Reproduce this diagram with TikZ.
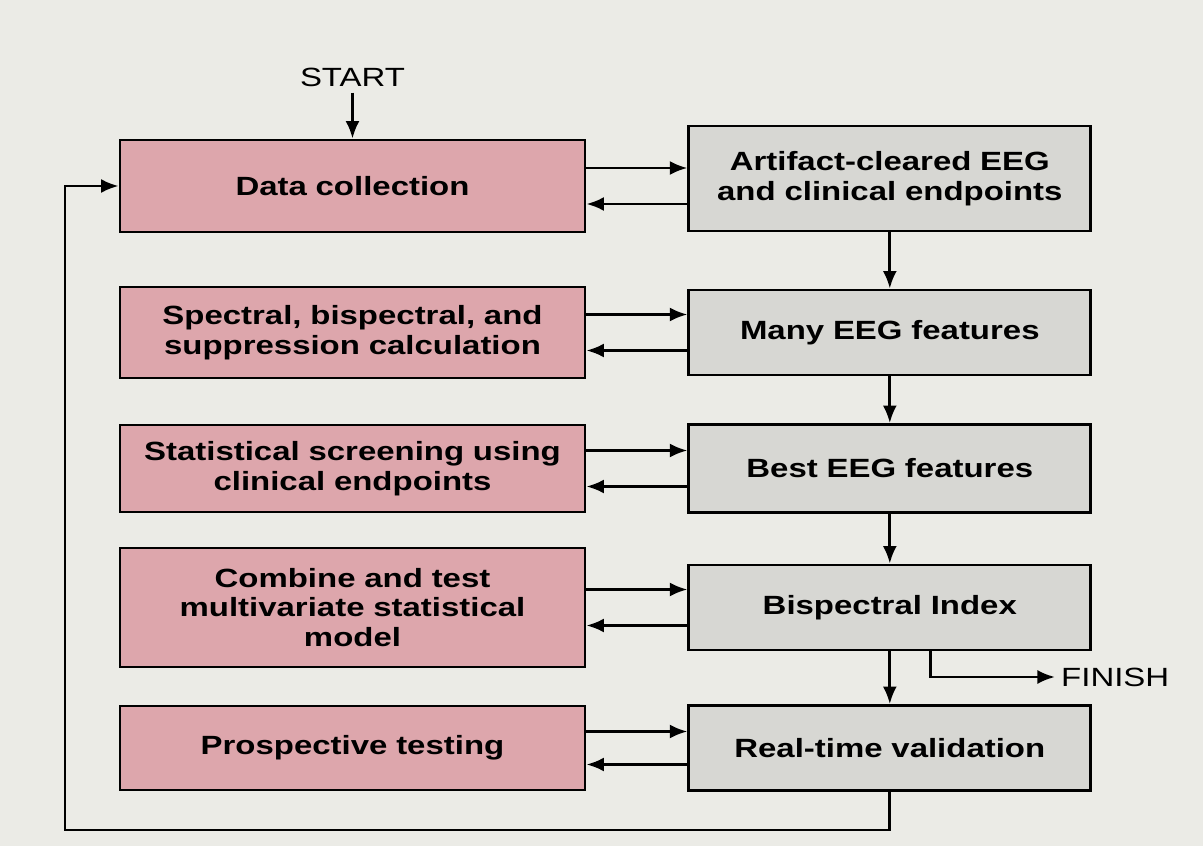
\documentclass[tikz,border=0pt]{standalone}
\usepackage{fontspec}
\setmainfont[FakeStretch=1.25]{Liberation Sans}
\usetikzlibrary{positioning, arrows.meta}
\definecolor{boxpink}{RGB}{221,166,172}
\definecolor{boxgray}{RGB}{215,215,211}
\definecolor{paper}{RGB}{235,235,230}

\begin{document}
\begin{tikzpicture}[node distance=2.02cm, auto]
		% styles
		\tikzstyle{procbox} = [rectangle, draw, fill=boxpink, line width=1.6pt, minimum width=9.3cm, text width=8.9cm, align=center, font=\bfseries\fontsize{15}{17}\selectfont]
		\tikzstyle{outbox} = [rectangle, draw, fill=boxgray, line width=1.6pt, minimum width=8.04cm, text width=7.7cm, align=center, font=\bfseries\fontsize{15}{17}\selectfont]
		\tikzstyle{tag} = [font=\fontsize{15}{17}\selectfont]
		\tikzstyle{arrow} = [line width=1.6pt, -{Latex[length=10pt,width=8pt]}]
		
		% background
		\fill [paper] (0,0) rectangle (24.06,-16.92);
		\useasboundingbox (0,0) rectangle (24.06,-16.92);
		
		% left column
		\node [procbox, minimum height=1.84cm] (datacoll) at (7.05,-3.72) {Data collection};
		\node [procbox, minimum height=1.82cm] (specalc) at (7.05,-6.65) {Spectral, bispectral, and\\suppression calculation};
		\node [procbox, minimum height=1.74cm] (screening) at (7.05,-9.37) {Statistical screening using\\clinical endpoints};
		\node [procbox, minimum height=2.38cm] (combine) at (7.05,-12.15) {Combine and test\\multivariate statistical\\model};
		\node [procbox, minimum height=1.68cm] (prospect) at (7.05,-14.96) {Prospective testing};
		
		% right column
		\node [outbox, minimum height=2.1cm, right=of datacoll, yshift=0.15cm] (cleared) {Artifact-cleared EEG\\and clinical endpoints};
		\node [outbox, minimum height=1.7cm, right=of specalc] (manyfeat) {Many EEG features};
		\node [outbox, minimum height=1.76cm, right=of screening] (bestfeat) {Best EEG features};
		\node [outbox, minimum height=1.7cm, right=of combine] (bis) {Bispectral Index};
		\node [outbox, minimum height=1.7cm, right=of prospect] (realtime) {Real-time validation};
		
		\node [tag] (start) at (7.05,-1.54) {START};
		\node [tag, anchor=west] (finish) at (21.1,-13.54) {FINISH};
		\coordinate (loopcorner) at (1.3,-16.6);
		
		% arrows
		\draw [arrow] (start) -- (datacoll);
		\draw [arrow] ([yshift=0.36cm]datacoll.east) -- ([yshift=0.36cm]datacoll.east -| cleared.west);
		\draw [arrow] ([yshift=-0.36cm]datacoll.east -| cleared.west) -- ([yshift=-0.36cm]datacoll.east);
		\draw [arrow] ([yshift=0.36cm]specalc.east) -- ([yshift=0.36cm]specalc.east -| manyfeat.west);
		\draw [arrow] ([yshift=-0.36cm]specalc.east -| manyfeat.west) -- ([yshift=-0.36cm]specalc.east);
		\draw [arrow] ([yshift=0.36cm]screening.east) -- ([yshift=0.36cm]screening.east -| bestfeat.west);
		\draw [arrow] ([yshift=-0.36cm]screening.east -| bestfeat.west) -- ([yshift=-0.36cm]screening.east);
		\draw [arrow] ([yshift=0.36cm]combine.east) -- ([yshift=0.36cm]combine.east -| bis.west);
		\draw [arrow] ([yshift=-0.36cm]combine.east -| bis.west) -- ([yshift=-0.36cm]combine.east);
		\draw [arrow] ([yshift=0.33cm]prospect.east) -- ([yshift=0.33cm]prospect.east -| realtime.west);
		\draw [arrow] ([yshift=-0.33cm]prospect.east -| realtime.west) -- ([yshift=-0.33cm]prospect.east);
		
		\draw [arrow] (cleared) -- (manyfeat);
		\draw [arrow] (manyfeat) -- (bestfeat);
		\draw [arrow] (bestfeat) -- (bis);
		\draw [arrow] (bis) -- (realtime);
		\draw [arrow] ([xshift=0.82cm]bis.south) |- (finish);
		\draw [arrow] (realtime.south) |- (loopcorner) |- (datacoll.west);
\end{tikzpicture}
\end{document}
